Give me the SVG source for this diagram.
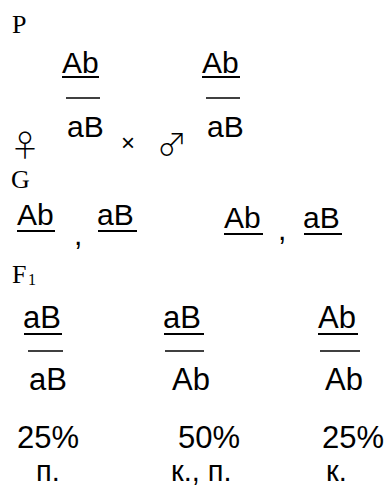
<svg xmlns="http://www.w3.org/2000/svg" width="387" height="488" viewBox="0 0 387 488">
<style>
.lbl{font-family:"Liberation Serif","Times New Roman",serif;font-size:26px;fill:#000}
.sub{font-family:"Liberation Serif","Times New Roman",serif;font-size:16px;fill:#000}
.g{font-family:"Liberation Sans",Arial,sans-serif;font-size:30px;fill:#000}
.g2{font-family:"Liberation Sans",Arial,sans-serif;font-size:31px;fill:#000}
.g3{font-family:"Liberation Sans",Arial,sans-serif;font-size:29px;fill:#000}
.sym{font-family:"Noto Sans CJK JP","DejaVu Sans",sans-serif;font-weight:300;font-size:30px;fill:#000}
.ul{stroke:#000;stroke-width:2}
.bar{stroke:#000;stroke-width:1.6}
</style>
<rect width="387" height="488" fill="#fff"/>
<g id="labels">
<text class="lbl" x="12" y="33">P</text>
<text class="lbl" x="11" y="188">G</text>
<text class="lbl" x="12" y="283">F</text><text class="sub" x="28" y="285">1</text>
</g>
<g id="parent-female">
<text class="g" x="62" y="73">Ab</text><line class="ul" x1="62" y1="77" x2="99" y2="77"/>
<line class="bar" x1="66" y1="98" x2="100" y2="98"/>
<text class="g" x="67" y="137">aB</text>
<text class="sym" x="10" y="156">♀</text>
</g>
<text id="cross" x="121" y="151" style="font-family:'Liberation Sans',Arial,sans-serif;font-size:24px">×</text>
<g id="parent-male">
<text class="sym" x="157" y="155">♂</text>
<text class="g" x="202" y="73">Ab</text><line class="ul" x1="202" y1="77" x2="240" y2="77"/>
<line class="bar" x1="206" y1="98" x2="240" y2="98"/>
<text class="g" x="207" y="137">aB</text>
</g>
<g id="gametes-female">
<text class="g" x="17" y="225">Ab</text><line class="ul" x1="17" y1="231" x2="55" y2="231"/>
<text class="g" x="74" y="245">,</text>
<text class="g" x="97" y="225">aB</text><line class="ul" x1="98" y1="231" x2="137" y2="231"/>
</g>
<g id="gametes-male">
<text class="g" x="224" y="228">Ab</text><line class="ul" x1="224" y1="234" x2="263" y2="234"/>
<text class="g" x="278" y="240">,</text>
<text class="g" x="303" y="228">aB</text><line class="ul" x1="304" y1="234" x2="342" y2="234"/>
</g>
<g id="offspring-1">
<text class="g2" x="23" y="328">aB</text><line class="ul" x1="24" y1="334" x2="62" y2="334"/>
<line class="bar" x1="28" y1="351" x2="63" y2="351"/>
<text class="g2" x="29" y="390">aB</text>
<text class="g2" x="17" y="448">25%</text>
<text class="g3" x="36" y="481">п.</text>
</g>
<g id="offspring-2">
<text class="g2" x="163" y="328">aB</text><line class="ul" x1="164" y1="334" x2="204" y2="334"/>
<line class="bar" x1="165" y1="351" x2="204" y2="351"/>
<text class="g2" x="172" y="390">Ab</text>
<text class="g2" x="178" y="448">50%</text>
<text class="g3" x="171" y="481">к., п.</text>
</g>
<g id="offspring-3">
<text class="g2" x="318" y="328">Ab</text><line class="ul" x1="318" y1="334" x2="358" y2="334"/>
<line class="bar" x1="320" y1="351" x2="360" y2="351"/>
<text class="g2" x="325" y="390">Ab</text>
<text class="g2" x="322" y="448">25%</text>
<text class="g3" x="326" y="481">к.</text>
</g>
</svg>
